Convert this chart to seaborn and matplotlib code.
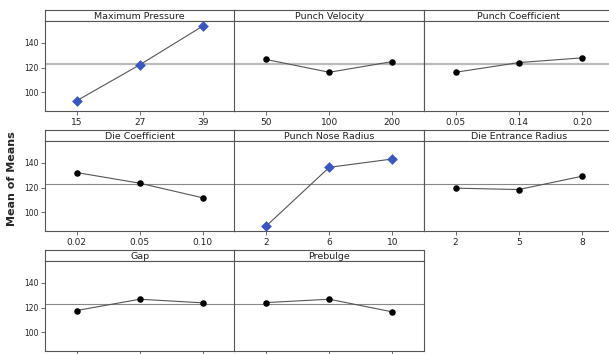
import matplotlib
matplotlib.use('Agg')
import matplotlib.pyplot as plt
import seaborn as sns
import pandas as pd

# 主效应图数据（均值的均值）
factors = ['Maximum Pressure', 'Punch Velocity', 'Punch Coefficient',
           'Die Coefficient', 'Punch Nose Radius', 'Die Entrance Radius',
           'Gap', 'Prebulge']
levels = [['15', '27', '39'], ['50', '100', '200'], ['0.05', '0.14', '0.20'],
          ['0.02', '0.05', '0.10'], ['2', '6', '10'], ['2', '5', '8'],
          ['', '', ''], ['', '', '']]
means = [[93.2, 122.2, 153.5], [126.5, 116.2, 124.8], [116.2, 124.0, 127.8],
         [132.1, 123.5, 111.7], [88.9, 136.3, 143.0], [119.5, 118.4, 129.1],
         [117.6, 126.7, 123.8], [124.0, 126.7, 116.5]]
significant = ['Maximum Pressure', 'Punch Nose Radius']
grand_mean = 122.7

rows = []
for f, lv, m in zip(factors, levels, means):
    for i, (l, v) in enumerate(zip(lv, m)):
        rows.append({'factor': f, 'pos': i, 'level': l, 'mean': v})
df = pd.DataFrame(rows)

sns.set_style('white')
plt.rcParams['font.family'] = ['DejaVu Sans']

W, H = 609, 354
fig = plt.figure(figsize=(W / 100, H / 100), dpi=100)

x0, pw = 45, 189.5
strip_top, strip_h, plot_h, row_gap = 10, 11, 90, 120
blue = '#3A56C5'
frame = '#555555'

for k, f in enumerate(factors):
    r, c = divmod(k, 3)
    left = x0 + c * pw
    top = strip_top + r * row_gap
    # 标题条
    sax = fig.add_axes([left / W, 1 - (top + strip_h) / H, pw / W, strip_h / H])
    sax.set_xticks([])
    sax.set_yticks([])
    for s in sax.spines.values():
        s.set_color(frame)
        s.set_linewidth(0.8)
    sax.text(0.5, 0.45, f, ha='center', va='center', fontsize=6.8,
             color='#222222', transform=sax.transAxes)

    ax = fig.add_axes([left / W, 1 - (top + strip_h + plot_h) / H, pw / W, plot_h / H])
    d = df[df['factor'] == f]
    if r == 0:
        ax.axhline(grand_mean, color='#BBBBBB', lw=1.6, zorder=1)
    else:
        ax.axhline(grand_mean, color='#888888', lw=0.8, zorder=1)
    sns.lineplot(data=d, x='pos', y='mean', color='#555555', lw=0.8, ax=ax, zorder=2)
    if f in significant:
        sns.scatterplot(data=d, x='pos', y='mean', marker='D', color=blue,
                        s=30, edgecolor=blue, linewidth=0, ax=ax, zorder=3)
    else:
        sns.scatterplot(data=d, x='pos', y='mean', marker='o', color='black',
                        s=22, edgecolor='black', linewidth=0, ax=ax, zorder=3)
    ax.set_xlim(-0.5, 2.5)
    ax.set_ylim(85, 157.5)
    ax.set_xticks(d['pos'])
    ax.set_xticklabels(d['level'], fontsize=6.5, color='#222222')
    ax.set_xlabel('')
    ax.set_ylabel('')
    ax.tick_params(axis='x', bottom=True, length=3, width=0.6, color='#555555', pad=2)
    if c == 0:
        ax.set_yticks([100, 120, 140])
        ax.tick_params(axis='y', left=True, length=3, width=0.6, color='#555555',
                       labelsize=5.5, labelcolor='#222222', pad=1.5)
    else:
        ax.set_yticks([])
    for s in ax.spines.values():
        s.set_color(frame)
        s.set_linewidth(0.8)

fig.text(12 / W, 1 - 179 / H, 'Mean of Means', rotation=90, ha='center',
         va='center', fontsize=8, fontweight='bold')

plt.savefig('out.png', dpi=100)
